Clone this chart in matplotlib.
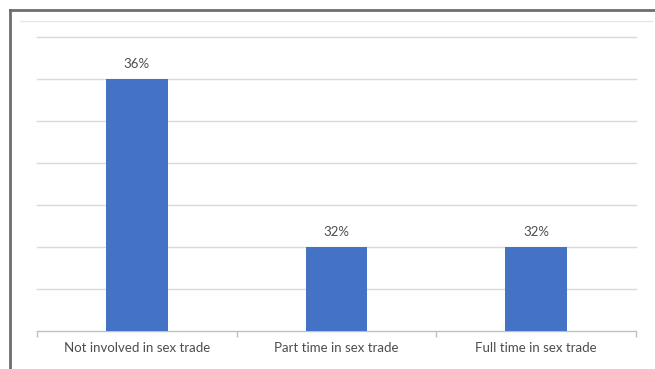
import matplotlib.pyplot as plt
from matplotlib.lines import Line2D

# === DATA ===
categories = ["Not involved in sex trade", "Part time in sex trade", "Full time in sex trade"]
values = [36, 32, 32]
labels = ["36%", "32%", "32%"]

BLUE = "#4472C4"
TEXT = "#4D4D4D"
GRID = "#D9D9D9"

plt.rcParams['font.family'] = ['Lato', 'DejaVu Sans']

fig = plt.figure(figsize=(6.55, 3.69), dpi=100)
ax = fig.add_axes([37 / 655, 38 / 369, 599 / 655, 294 / 369])

x = range(len(categories))
ax.bar(x, values, width=0.31, color=BLUE, zorder=3)

for xi, v, lab in zip(x, values, labels):
    ax.annotate(lab, (xi, v), xytext=(0, 6.5), textcoords="offset points",
                ha="center", va="bottom", fontsize=9.5, color=TEXT)

ax.set_xlim(-0.5, 2.5)
ax.set_ylim(30, 37)
ax.set_yticks(range(30, 38))
ax.yaxis.grid(True, color=GRID, lw=1, zorder=0)
for gl in ax.yaxis.get_gridlines():
    gl.set_clip_on(False)
ax.tick_params(axis="y", left=False, labelleft=False)

ax.set_xticks(list(x))
ax.set_xticklabels(categories, fontsize=9.5, color=TEXT)
ax.tick_params(axis="x", which="major", length=0, pad=8)
ax.set_xticks([-0.5, 0.5, 1.5, 2.5], minor=True)
ax.tick_params(axis="x", which="minor", length=4, color="#BFBFBF", width=1)

for side in ["top", "right", "left"]:
    ax.spines[side].set_visible(False)
ax.spines["bottom"].set_color("#BFBFBF")

# outer frame (cut off at the right and bottom in the source image)
fig.add_artist(Line2D([9.5 / 655, 1.0], [1 - 10 / 369, 1 - 10 / 369],
                      transform=fig.transFigure, color="#6E6E6E", lw=2))
fig.add_artist(Line2D([10 / 655, 10 / 655], [0, 1 - 9.5 / 369],
                      transform=fig.transFigure, color="#6E6E6E", lw=2))
fig.add_artist(Line2D([20 / 655, 652 / 655], [1 - 21 / 369, 1 - 21 / 369],
                      transform=fig.transFigure, color="#E6E6E6", lw=1))

fig.savefig("out.png", dpi=100)
